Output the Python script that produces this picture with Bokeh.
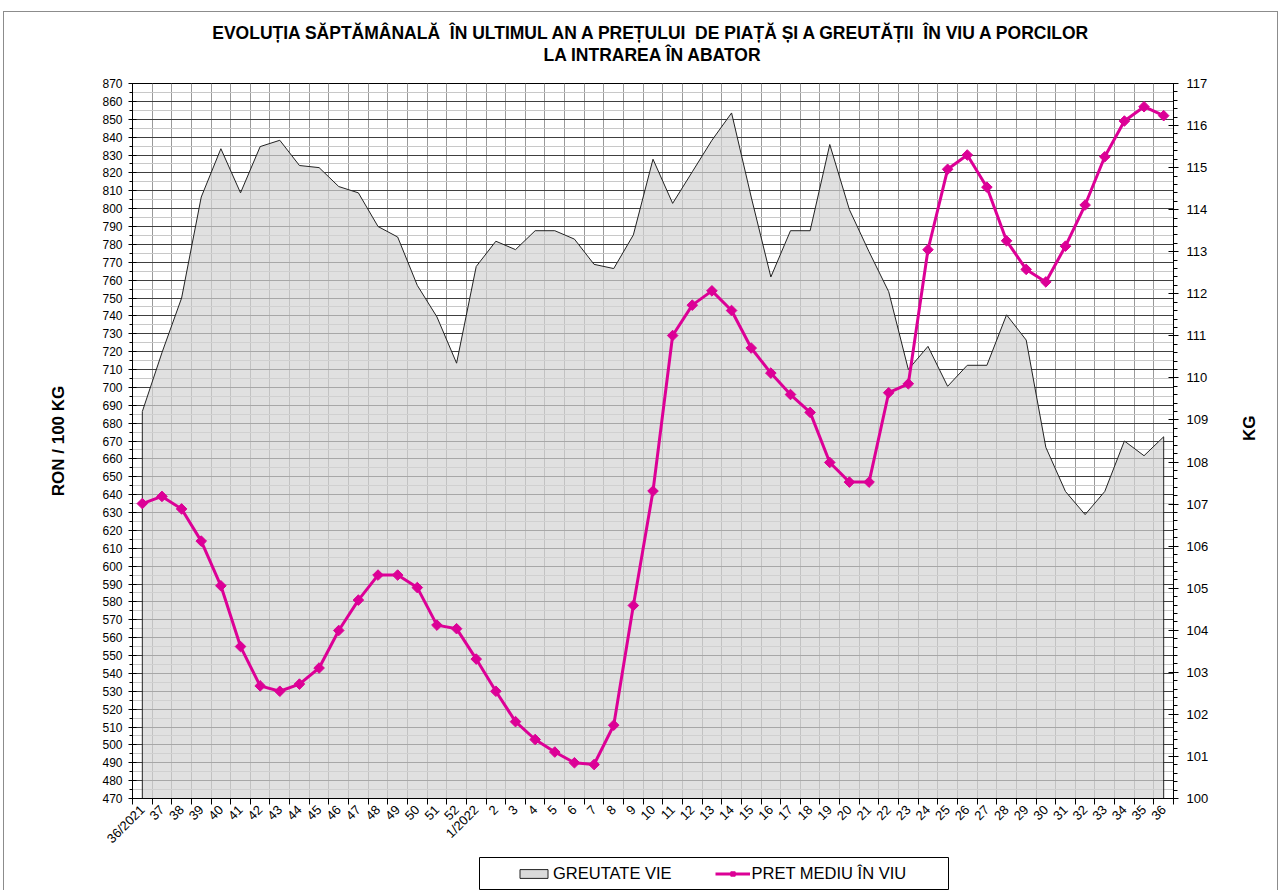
import math
from bokeh.plotting import figure
from bokeh.layouts import column
from bokeh.models import (Range1d, LinearAxis, FixedTicker, SingleIntervalTicker,
                          Legend, LegendItem, Title)
from bokeh.embed import file_html
from bokeh.resources import INLINE

weeks = ["36/2021", "37", "38", "39", "40", "41", "42", "43", "44", "45", "46", "47",
         "48", "49", "50", "51", "52", "1/2022", "2", "3", "4", "5", "6", "7", "8", "9",
         "10", "11", "12", "13", "14", "15", "16", "17", "18", "19", "20", "21", "22",
         "23", "24", "25", "26", "27", "28", "29", "30", "31", "32", "33", "34", "35", "36"]

weight_kg = [109.2, 110.6, 111.9, 114.3, 115.45, 114.4, 115.5, 115.65, 115.05, 115.0,
             114.55, 114.4, 113.6, 113.35, 112.2, 111.45, 110.35, 112.65, 113.25, 113.05,
             113.5, 113.5, 113.3, 112.7, 112.6, 113.4, 115.2, 114.15, 114.9, 115.65,
             116.3, 114.3, 112.4, 113.5, 113.5, 115.55, 114.0, 113.0, 112.05, 110.2,
             110.75, 109.8, 110.3, 110.3, 111.5, 110.9, 108.35, 107.3, 106.75, 107.3,
             108.5, 108.15, 108.6]

price_ron = [635, 639, 632, 614, 589, 555, 533, 530, 534, 543, 564, 581, 595, 595, 588,
             567, 565, 548, 530, 513, 503, 496, 490, 489, 511, 578, 642, 729, 746, 754,
             743, 722, 708, 696, 686, 658, 647, 647, 697, 702, 777, 822, 830, 812, 782,
             766, 759, 779, 802, 829, 849, 857, 852]

series_names = ["GREUTATE VIE", "PRET MEDIU ÎN VIU"]

NB2 = "\u00a0 "  # double space that survives whitespace collapsing
title_line1 = ("EVOLUȚIA SĂPTĂMÂNALĂ" + NB2 + "ÎN ULTIMUL AN A PREȚULUI" + NB2 +
               "DE PIAȚĂ ȘI A GREUTĂȚII" + NB2 + "ÎN VIU A PORCILOR")
title_line2 = "LA INTRAREA ÎN ABATOR"

FONT = "Liberation Sans"
MAG = "#DC0096"
AREA_FILL = "#d3d3d3"
W = 1273
BL, BR = 128, 104   # borders so that the plot frame spans page x 132..1173

n = len(weeks)
x = list(range(n))

p = figure(width=W, height=842, output_backend="svg", toolbar_location=None,
           x_range=Range1d(-0.5, n - 0.5), y_range=Range1d(470, 870),
           min_border_left=BL, min_border_right=BR, min_border_top=71,
           min_border_bottom=56, background_fill_color="white",
           border_fill_color="white", outline_line_color="black")
p.extra_y_ranges = {"kg": Range1d(100, 117)}

# titles (first added is nearest the plot)
p.add_layout(Title(text=" ", text_font_size="1px", standoff=16), "above")
p.add_layout(Title(text=title_line2, align="center", text_font=FONT, text_color="black",
                   text_font_size="17.5px", text_font_style="bold", standoff=0), "above")
p.add_layout(Title(text=title_line1, align="center", text_font=FONT, text_color="black",
                   text_font_size="17.5px", text_font_style="bold", standoff=0), "above")

# x axis
xt = FixedTicker(ticks=x, minor_ticks=[i - 0.5 for i in range(n + 1)])
p.xaxis.ticker = xt
p.xaxis.major_label_overrides = {i: w for i, w in enumerate(weeks)}
p.xaxis.major_label_orientation = math.pi / 4
p.xaxis.major_tick_line_color = None
p.xaxis.minor_tick_line_color = "black"
p.xaxis.minor_tick_out = 6
p.xaxis.minor_tick_in = 0
p.xaxis.axis_line_color = "black"
p.xaxis.major_label_text_font = FONT
p.xaxis.major_label_text_font_size = "13px"
p.xaxis.major_label_text_color = "black"
p.xaxis.major_label_standoff = 3

p.xgrid.ticker = FixedTicker(ticks=[i + 0.5 for i in range(n - 1)])
p.xgrid.grid_line_color = "#9a9a9a"
p.xgrid.grid_line_width = 1

# left y axis
yt = SingleIntervalTicker(interval=10, num_minor_ticks=2)
p.yaxis.ticker = yt
p.ygrid.ticker = yt
p.ygrid.grid_line_color = "#404040"
p.ygrid.minor_grid_line_color = "#c8c8c8"
p.yaxis.axis_label = "RON / 100 KG"
p.yaxis.axis_label_text_font = FONT
p.yaxis.axis_label_text_font_size = "17px"
p.yaxis.axis_label_text_font_style = "bold"
p.yaxis.axis_label_text_color = "black"
p.yaxis.axis_label_standoff = 31
p.yaxis.major_label_text_font = FONT
p.yaxis.major_label_text_font_size = "12px"
p.yaxis.major_label_text_color = "black"
p.yaxis.major_tick_in = 4
p.yaxis.major_tick_out = 4
p.yaxis.minor_tick_in = 0
p.yaxis.minor_tick_out = 3
p.yaxis.major_label_standoff = 6
p.yaxis.axis_line_color = "black"

# right y axis
kg_axis = LinearAxis(y_range_name="kg",
                     ticker=SingleIntervalTicker(interval=1, num_minor_ticks=5),
                     axis_label="KG", axis_label_text_font=FONT,
                     axis_label_text_font_size="17px", axis_label_text_font_style="bold",
                     axis_label_text_color="black", axis_label_standoff=38,
                     major_label_text_font=FONT, major_label_text_font_size="13px",
                     major_label_text_color="black", major_tick_in=5, major_tick_out=5,
                     minor_tick_in=0, minor_tick_out=4, major_label_standoff=8,
                     axis_line_color="black")
if "axis_label_orientation" in kg_axis.properties():
    kg_axis.axis_label_orientation = math.pi / 2
p.add_layout(kg_axis, "right")

# area (weight)
p.patch([x[0]] + x + [x[-1]], [100] + weight_kg + [100], y_range_name="kg",
        fill_color=AREA_FILL, fill_alpha=0.7, line_color="#222222", line_width=1)

# price line
p.line(x, price_ron, color=MAG, line_width=3)
p.scatter(x, price_ron, marker="square", angle=math.pi / 4, size=7.5, color=MAG)

# ---- legend strip (separate small figure below the chart) ----
# its frame spans the same page x range (132..1173); x data = page x pixels
LH = 36
lf = figure(width=W, height=LH, output_backend="svg", toolbar_location=None,
            x_range=Range1d(132, 1173), y_range=Range1d(0, LH),
            min_border_left=BL, min_border_right=BR, min_border_top=0,
            min_border_bottom=0, outline_line_color=None,
            background_fill_color="white", border_fill_color="white")
lf.axis.visible = False
lf.grid.visible = False
# legend frame box
lf.quad(left=[479], right=[948], bottom=[1], top=[33], fill_color=None,
        line_color="black", line_width=1)
# off-screen proxy glyphs that give the legend its swatches
r_area = lf.patch([-50, -40, -40], [-5, -5, -4], fill_color=AREA_FILL, fill_alpha=0.85,
                  line_color="#222222", line_width=1)
r_line = lf.line([-50, -40], [-5, -5], color=MAG, line_width=3)
r_mark = lf.scatter([-50], [-5], marker="square", angle=math.pi / 4, size=7.5, color=MAG)

legend = Legend(items=[LegendItem(label=series_names[0], renderers=[r_area]),
                       LegendItem(label=series_names[1], renderers=[r_line, r_mark])],
                orientation="horizontal", location=(384, 7),
                border_line_color=None, background_fill_alpha=0,
                label_text_font=FONT, label_text_font_size="16.5px",
                label_text_color="black", label_width=0,
                glyph_width=35, glyph_height=11, padding=0, spacing=43,
                label_standoff=2, margin=0)
lf.add_layout(legend)

layout = column(p, lf, spacing=0,
                styles={"margin-left": "3px", "margin-top": "11px",
                        "border-left": "1px solid #8c8c8c",
                        "border-top": "1px solid #8c8c8c",
                        "border-right": "1px solid #8c8c8c"})

open("out.html", "w").write(file_html(layout, INLINE))
